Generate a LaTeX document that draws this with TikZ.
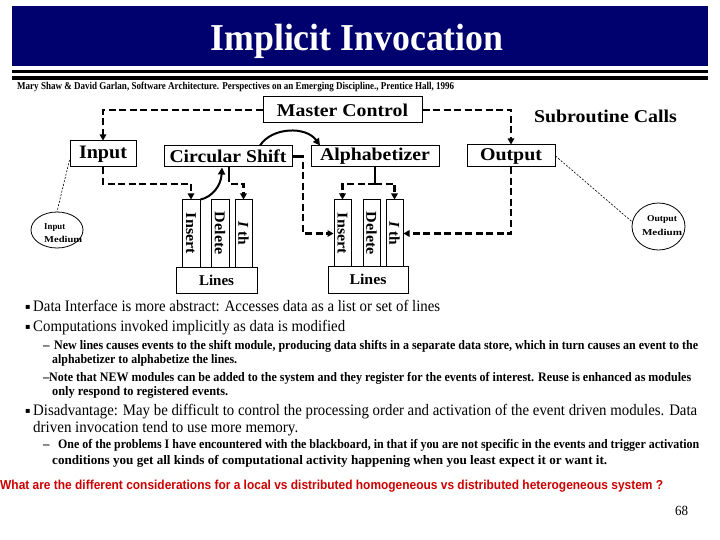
\documentclass[tikz,border=0pt]{standalone}
\usepackage{fontspec}
\usepackage{graphicx}
\setmainfont{Liberation Serif}
\newfontfamily\arialf{Liberation Sans}
\newfontfamily\dejavu{DejaVu Sans}
\usetikzlibrary{arrows.meta,shapes.geometric}
\newcommand\fitw[2]{\resizebox{#1}{\height}{#2}}
\definecolor{bannerblue}{RGB}{0,0,110}
\definecolor{qred}{RGB}{204,0,0}
\newcommand\fs[1]{\fontsize{#1}{#1}\selectfont}
\begin{document}
\begin{tikzpicture}[x=1pt,y=-1pt,
  box/.style={draw,line width=1pt,inner sep=0pt,fill=white},
  col/.style={draw,line width=1pt,inner sep=0pt,fill=white,minimum height=67pt},
  rot/.style={rotate=-90,inner sep=0pt},
  txt/.style={anchor=base west,inner sep=0pt},
  dsh/.style={line width=2.4pt,dash pattern=on 7pt off 3.5pt},
  dsharrow/.style={dsh,-{Triangle[length=6pt,width=6.5pt]}},
  curvearrow/.style={line width=2pt,-{Triangle[length=7pt,width=7pt]}},
  thinlink/.style={line width=0.6pt,dash pattern=on 2pt off 1.5pt},
  medium/.style={draw,ellipse,line width=0.8pt,inner sep=0pt},
]
\useasboundingbox (0,0) rectangle (720,540);
% banner
\fill[bannerblue] (12,6) rectangle (708,66);
\fill[black] (12,70) rectangle (708,73);
\fill[black] (12,76) rectangle (708,80);
\node[anchor=base,inner sep=0pt,text=white] (title) at (357,51) {\fs{38}\bfseries\fitw{293pt}{Implicit Invocation}};
\node[txt] (cite) at (17,89.5) {\fs{10.5}\bfseries\fitw{437pt}{Mary Shaw \& David Garlan, Software Architecture. Perspectives on an Emerging Discipline., Prentice Hall, 1996}};

% diagram boxes
\node[box,minimum width=159pt,minimum height=26pt] (mc) at (342.5,110) {\fs{18}\bfseries\fitw{131pt}{Master Control}};
\node[inner sep=0pt] (sc) at (605.5,116) {\fs{18}\bfseries\fitw{143pt}{Subroutine Calls}};
\node[box,minimum width=66pt,minimum height=26pt] (in) at (103,154) {\fs{19}\bfseries\fitw{48pt}{Input}};
\node[box,minimum width=128pt,minimum height=21pt] (cs) at (228,156.5) {\fs{18}\bfseries\fitw{117pt}{Circular Shift}};
\node[box,minimum width=128pt,minimum height=21pt] (al) at (375,156.5) {\fs{18}\bfseries\fitw{110pt}{Alphabetizer}};
\node[box,minimum width=88pt,minimum height=22pt] (out) at (511,156) {\fs{18}\bfseries\fitw{62pt}{Output}};

% data store 1
\node[col,minimum width=18pt] (ins1) at (191,233.5) {};
\node[col,minimum width=18pt] (del1) at (220,233.5) {};
\node[col,minimum width=17pt] (ith1) at (243.5,233.5) {};
\node[rot] (ins1t) at (ins1) {\fs{15}\bfseries\fitw{41pt}{Insert}};
\node[rot] (del1t) at (del1) {\fs{15}\bfseries\fitw{43pt}{Delete}};
\node[rot] (ith1t) at (ith1) {\fs{15}\bfseries\fitw{24pt}{\textit{I} th}};
\node[box,minimum width=81pt,minimum height=26pt] (lines1) at (216.5,280) {\fs{15}\bfseries\fitw{35pt}{Lines}};

% data store 2
\node[col,minimum width=17pt] (ins2) at (342.5,233.5) {};
\node[col,minimum width=17pt] (del2) at (371.5,233.5) {};
\node[col,minimum width=17pt] (ith2) at (394.5,233.5) {};
\node[rot] (ins2t) at (ins2) {\fs{15}\bfseries\fitw{41pt}{Insert}};
\node[rot] (del2t) at (del2) {\fs{15}\bfseries\fitw{43pt}{Delete}};
\node[rot] (ith2t) at (ith2) {\fs{15}\bfseries\fitw{24pt}{\textit{I} th}};
\node[box,minimum width=80pt,minimum height=27pt] (lines2) at (368,279.5) {\fs{15}\bfseries\fitw{37pt}{Lines}};

% media
\node[medium,minimum width=52pt,minimum height=36pt] (im) at (57,230) {};
\node[inner sep=0pt,align=left,anchor=west] (imt) at (44,233) {\fs{9}\bfseries\fitw{21pt}{Input}\\[1pt]\fs{9}\bfseries\fitw{38pt}{Medium}};
\node[medium,minimum width=53pt,minimum height=47pt] (om) at (658.5,226.5) {};
\node[inner sep=0pt,align=center] (omt) at (662,226) {\fs{9}\bfseries\fitw{30pt}{Output}\\[2pt]\fs{9}\bfseries\fitw{40pt}{Medium}};

% connectors
\coordinate (jin) at (103,184);
\coordinate (jcs) at (229,184);
\coordinate (jcs2) at (303,233.5);
\coordinate (jal) at (375,184);
\draw[dsharrow] (mc.west) -| (in.north);
\draw[dsharrow] (mc.east) -| (out.north);
\draw[dsharrow] (in.south) -- (jin) -| (ins1.north);
\draw[line width=2.4pt] ([xshift=1pt]cs.south) -- (229,175);
\draw[dsharrow] (229,175) -- (jcs) -| (ith1.north);
\draw[line width=2.4pt] (cs.east) -- (298,156.5);
\draw[dsharrow] (298,156.5) -| (jcs2) -- (ins2.west);
\draw[line width=2.4pt] (al.south) -- (jal);
\draw[dsharrow] (jal) -| (ins2.north);
\draw[dsharrow] (jal) -| (ith2.north);
\draw[dsharrow] (out.south) |- (ith2.east);
\draw[curvearrow] (ins1.north east) .. controls (212,197) and (221,186) .. ([xshift=-6pt]cs.south);
\draw[curvearrow] ([xshift=32pt]cs.north) .. controls (272,127) and (306,126) .. ([xshift=-55pt]al.north);
\draw[thinlink] ([yshift=-6pt]in.west) -- (im.north);
\draw[thinlink] (out.east) -- (om.170);

% bullet text
\node[txt] (b1) at (25,309) {\dejavu\fs{8}▪};
\node[txt] (l1) at (33,311.5) {\fs{16}\fitw{407pt}{Data Interface is more abstract: Accesses data as a list or set of lines}};
\node[txt] (b2) at (25,329) {\dejavu\fs{8}▪};
\node[txt] (l2) at (33,331.5) {\fs{16}\fitw{312pt}{Computations invoked implicitly as data is modified}};
\node[txt] (d1) at (43,349.5) {\fs{13}\bfseries –};
\node[txt] (s1a) at (54,349.5) {\fs{13}\bfseries\fitw{644pt}{New lines causes events to the shift module, producing data shifts in a separate data store, which in turn causes an event to the}};
\node[txt] (s1b) at (52,363.5) {\fs{13}\bfseries\fitw{185pt}{alphabetizer to alphabetize the lines.}};
\node[txt] (d2) at (43,381.5) {\fs{13}\bfseries –};
\node[txt] (s2a) at (49,381.5) {\fs{13}\bfseries\fitw{642pt}{Note that NEW modules can be added to the system and they register for the events of interest. Reuse is enhanced as modules}};
\node[txt] (s2b) at (52,395.5) {\fs{13}\bfseries\fitw{176pt}{only respond to registered events.}};
\node[txt] (b3) at (25,413) {\dejavu\fs{8}▪};
\node[txt] (l3a) at (33,415.5) {\fs{16}\fitw{664pt}{Disadvantage: May be difficult to control the processing order and activation of the event driven modules. Data}};
\node[txt] (l3b) at (33,432.5) {\fs{16}\fitw{265pt}{driven invocation tend to use more memory.}};
\node[txt] (d3) at (43,448.5) {\fs{13}\bfseries –};
\node[txt] (s3a) at (58,448.5) {\fs{13}\bfseries\fitw{641pt}{One of the problems I have encountered with the blackboard, in that if you are not specific in the events and trigger activation}};
\node[txt] (s3b) at (52,464.5) {\fs{13}\bfseries\fitw{555pt}{conditions you get all kinds of computational activity happening when you least expect it or want it.}};
\node[txt,text=qred] (q) at (0,489.5) {\arialf\fs{13}\bfseries\fitw{663pt}{What are the different considerations for a local vs distributed homogeneous vs distributed heterogeneous system ?}};
\node[txt] (pg) at (675,515) {\fs{14}\fitw{13pt}{68}};
\end{tikzpicture}
\end{document}
